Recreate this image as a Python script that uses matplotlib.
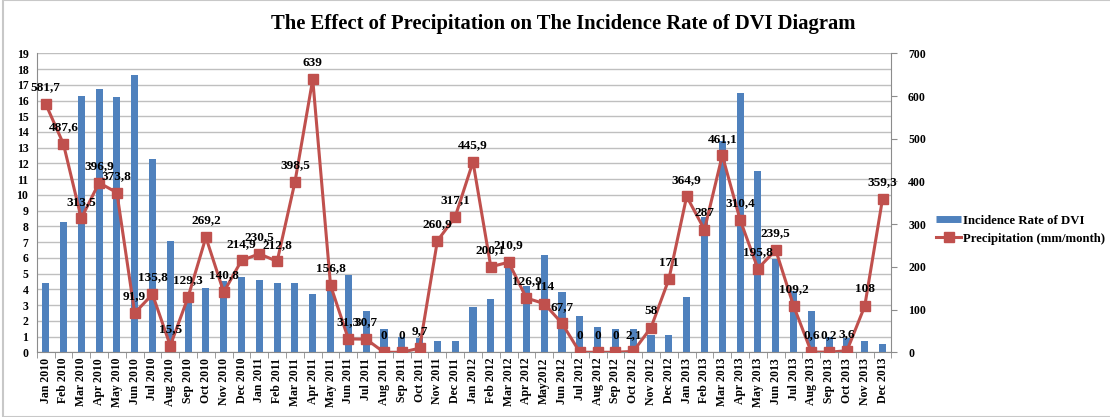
import matplotlib
matplotlib.use('Agg')
import matplotlib.pyplot as plt
from matplotlib.lines import Line2D
from matplotlib.patches import Rectangle

plt.rcParams['font.family'] = ['Liberation Serif', 'DejaVu Serif']
plt.rcParams['font.weight'] = 'bold'

months = ['Jan 2010', 'Feb 2010', 'Mar 2010', 'Apr 2010', 'May 2010', 'Jun 2010',
          'Jul 2010', 'Aug 2010', 'Sep 2010', 'Oct 2010', 'Nov 2010', 'Dec 2010',
          'Jan 2011', 'Feb 2011', 'Mar 2011', 'Apr 2011', 'May 2011', 'Jun 2011',
          'Jul 2011', 'Aug 2011', 'Sep 2011', 'Oct 2011', 'Nov 2011', 'Dec 2011',
          'Jan 2012', 'Feb 2012', 'Mar 2012', 'Apr 2012', 'May2012', 'Jun 2012',
          'Jul 2012', 'Aug 2012', 'Sep 2012', 'Oct 2012', 'Nov 2012', 'Dec 2012',
          'Jan 2013', 'Feb 2013', 'Mar 2013', 'Apr 2013', 'May 2013', 'Jun 2013',
          'Jul 2013', 'Aug 2013', 'Sep 2013', 'Oct 2013', 'Nov 2013', 'Dec 2013']

incidence = [4.4, 8.3, 16.3, 16.7, 16.2, 17.6, 12.3, 7.1, 3.5, 4.1, 4.5, 4.8,
             4.6, 4.4, 4.4, 3.7, 4.3, 4.9, 2.6, 1.5, 1.0, 0.9, 0.7, 0.7,
             2.9, 3.4, 5.5, 4.2, 6.2, 3.8, 2.3, 1.6, 1.5, 1.5, 1.1, 1.1,
             3.5, 8.6, 13.4, 16.5, 11.5, 5.9, 3.9, 2.6, 1.0, 0.9, 0.7, 0.5]

precip = [581.7, 487.6, 313.5, 396.9, 373.8, 91.9, 135.8, 15.5, 129.3, 269.2, 140.8, 214.9,
          230.5, 212.8, 398.5, 639, 156.8, 31.3, 30.7, 0, 0, 9.7, 260.9, 317.1,
          445.9, 200.1, 210.9, 126.9, 114, 67.7, 0, 0, 0, 2.1, 58, 171,
          364.9, 287, 461.1, 310.4, 195.8, 239.5, 109.2, 0.6, 0.2, 3.6, 108, 359.3]

bar_color = '#4F81BD'
line_color = '#C0504D'
grid_color = '#BFBFBF'
spine_color = '#8C8C8C'

fig = plt.figure(figsize=(11.1, 4.17), dpi=100)
ax = fig.add_axes([0.0331, 0.1552, 0.770, 0.717])
ax2 = ax.twinx()

x = list(range(len(months)))
ax.bar(x, incidence, width=0.4, color=bar_color, zorder=2)
ax.set_xlim(-0.5, len(months) - 0.5)
ax.set_ylim(0, 19)
ax.set_yticks(range(0, 20))
ax.yaxis.grid(True, color=grid_color, lw=1, zorder=0)
ax.set_axisbelow(True)
ax.set_xticks(x)
ax.set_xticklabels(months, rotation=90, fontsize=8.5, fontweight='bold')
ax.set_xticks([i - 0.5 for i in range(len(months) + 1)], minor=True)
ax.tick_params(axis='x', which='major', length=0, pad=4)
ax.tick_params(axis='x', which='minor', length=4, color=spine_color)
ax.tick_params(axis='y', labelsize=8.5, length=0, pad=6)
for lab in ax.get_yticklabels():
    lab.set_fontweight('bold')

ax2.plot(x, precip, color=line_color, lw=2.2, marker='s', markersize=7.5, zorder=3)
ax2.set_ylim(0, 700)
ax2.set_yticks(range(0, 701, 100))
ax2.tick_params(axis='y', labelsize=8.5, length=4, color=spine_color, pad=8)
for lab in ax2.get_yticklabels():
    lab.set_fontweight('bold')

for xi, v in zip(x, precip):
    txt = ('%g' % v).replace('.', ',')
    ax2.annotate(txt, (xi, v), xytext=(0, 12), textcoords='offset points',
                 ha='center', va='center', fontsize=9.5, fontweight='bold', zorder=4)

for a in (ax, ax2):
    a.spines['top'].set_visible(False)
    for s in ('left', 'right', 'bottom'):
        a.spines[s].set_color(spine_color)
ax.spines['right'].set_visible(False)
ax2.spines['left'].set_visible(False)
ax2.spines['bottom'].set_visible(False)

fig.text(0.5076, 0.943, 'The Effect of Precipitation on The Incidence Rate of DVI Diagram',
         ha='center', va='center', fontsize=14.9, fontweight='bold')

handles = [Line2D([], [], color=bar_color, lw=5, solid_capstyle='butt'),
           Line2D([], [], color=line_color, lw=2.2, marker='s', markersize=7)]
fig.legend(handles, ['Incidence Rate of DVI', 'Precipitation (mm/month)'],
           loc='center left', bbox_to_anchor=(0.843, 0.449), frameon=False,
           fontsize=9.2, handlelength=2.0, handletextpad=0.15, labelspacing=0.5,
           borderpad=0, borderaxespad=0)

fig.patches.append(Rectangle((3 / 1110, 0), 1, 1, transform=fig.transFigure,
                             fill=False, ec='#C8C8C8', lw=1.5))

fig.savefig('out.png', dpi=100)
